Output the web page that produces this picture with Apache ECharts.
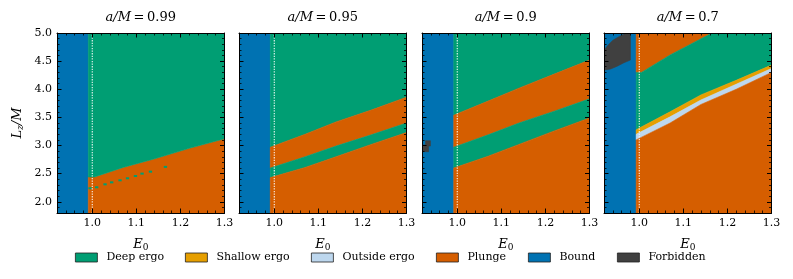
<!DOCTYPE html>
<html><head><meta charset="utf-8">
<script src="https://cdn.jsdelivr.net/npm/echarts@6/dist/echarts.min.js"></script>
<style>html,body{margin:0;padding:0;background:#fff}#c{width:793px;height:279px}</style>
</head><body><div id="c"></div><script>
// ---------- data ----------
const categories = ['Deep ergo', 'Shallow ergo', 'Outside ergo', 'Plunge', 'Bound', 'Forbidden'];
const spinValues = ['0.99', '0.95', '0.9', '0.7'];
const xMajorTicks = [1.0, 1.1, 1.2, 1.3];
const xMinorTicks = [0.92, 0.94, 0.96, 0.98, 1.02, 1.04, 1.06, 1.08, 1.12, 1.14, 1.16, 1.18, 1.22, 1.24, 1.26, 1.28];
const yMajorTicks = [2.0, 2.5, 3.0, 3.5, 4.0, 4.5, 5.0];
const yMinorTicks = [1.8, 1.9, 2.1, 2.2, 2.3, 2.4, 2.6, 2.7, 2.8, 2.9, 3.1, 3.2, 3.3, 3.4, 3.6, 3.7, 3.8, 3.9, 4.1, 4.2, 4.3, 4.4, 4.6, 4.7, 4.8, 4.9];
const horizonLine = [[1.0, 1.8], [1.0, 5.0]];
const boundEdgeE = [0.991, 0.991, 0.992, 0.993];

// panel a/M = 0.99
const p1Edge = [[0.991, 2.44], [1.005, 2.44], [1.07, 2.61], [1.14, 2.76], [1.22, 2.95], [1.30, 3.12]];
const p1Dots = [[0.995, 2.24], [1.010, 2.257], [1.029, 2.31], [1.044, 2.345], [1.063, 2.381], [1.080, 2.417], [1.098, 2.458], [1.113, 2.50], [1.132, 2.535], [1.166, 2.62]];
// panel a/M = 0.95
const p2Top = [[0.991, 2.97], [1.07, 3.20], [1.14, 3.42], [1.22, 3.63], [1.30, 3.86]];
const p2Mid = [[0.991, 2.60], [1.07, 2.80], [1.14, 2.99], [1.22, 3.19], [1.30, 3.40]];
const p2Low = [[0.991, 2.43], [1.07, 2.61], [1.14, 2.80], [1.22, 3.02], [1.30, 3.23]];
// panel a/M = 0.9
const p3Top = [[0.992, 3.54], [1.07, 3.79], [1.14, 4.02], [1.22, 4.27], [1.30, 4.52]];
const p3Mid = [[0.992, 2.97], [1.07, 3.19], [1.14, 3.40], [1.22, 3.61], [1.30, 3.83]];
const p3Low = [[0.992, 2.60], [1.07, 2.81], [1.14, 3.02], [1.22, 3.26], [1.30, 3.49]];
const p3Forbidden = [[0.92, 2.89], [0.92, 3.01], [0.928, 3.01], [0.928, 3.085], [0.939, 3.085], [0.939, 2.99], [0.935, 2.99], [0.935, 2.89]];
// panel a/M = 0.7
const p4Forbidden = [[0.92, 4.34], [0.92, 4.70], [0.93, 4.79], [0.94, 4.87], [0.955, 4.94], [0.97, 5.0], [0.98, 5.0], [0.98, 4.52], [0.965, 4.47], [0.95, 4.41], [0.935, 4.36]];
const p4GreenTop = [[0.993, 4.30], [1.005, 4.30], [1.07, 4.61], [1.165, 5.0]];
const p4GreenBottom = [[0.993, 3.28], [1.07, 3.60], [1.14, 3.90], [1.22, 4.16], [1.30, 4.43]];
const p4ShallowBottom = [[0.993, 3.20], [1.07, 3.51], [1.14, 3.81], [1.22, 4.09], [1.30, 4.37]];
const p4OutsideBottom = [[0.993, 3.10], [1.07, 3.40], [1.14, 3.73], [1.22, 4.00], [1.30, 4.30]];

// ---------- styles ----------
const E_MIN = 0.92, E_MAX = 1.3, L_MIN = 1.8, L_MAX = 5.0;
const catColor = {
  'Deep ergo': '#009E73', 'Shallow ergo': '#E69F00', 'Outside ergo': '#BDD7EE',
  'Plunge': '#D55E00', 'Bound': '#0072B2', 'Forbidden': '#404040'
};
const gridLefts = [57, 239, 422, 604];
const gridW = 167.5, gridTop = 33, gridH = 180;
const FONT = 'DejaVu Serif';
const CELL = [0.0075, 0.036];

// ---------- polygon helpers (combine boundary curves) ----------
const rev = a => a.slice().reverse();
const above = c => [...c, [c[c.length - 1][0], L_MAX], [c[0][0], L_MAX]];
const below = c => [[c[0][0], L_MIN], [c[c.length - 1][0], L_MIN], ...rev(c)];
const between = (lo, hi) => [...lo, ...rev(hi)];
const boundRect = e => [[E_MIN, L_MIN], [e, L_MIN], [e, L_MAX], [E_MIN, L_MAX]];

const panels = [
  [ ['Bound', boundRect(boundEdgeE[0])], ['Plunge', below(p1Edge)], ['Deep ergo', above(p1Edge)] ],
  [ ['Bound', boundRect(boundEdgeE[1])], ['Deep ergo', above(p2Top)], ['Plunge', between(p2Mid, p2Top)],
    ['Deep ergo', between(p2Low, p2Mid)], ['Plunge', below(p2Low)] ],
  [ ['Bound', boundRect(boundEdgeE[2])], ['Forbidden', p3Forbidden], ['Deep ergo', above(p3Top)],
    ['Plunge', between(p3Mid, p3Top)], ['Deep ergo', between(p3Low, p3Mid)], ['Plunge', below(p3Low)] ],
  [ ['Bound', boundRect(boundEdgeE[3])], ['Forbidden', p4Forbidden],
    ['Plunge', [...p4GreenTop, [p4GreenTop[0][0], L_MAX]]],
    ['Deep ergo', [...p4GreenBottom, [E_MAX, L_MAX], ...rev(p4GreenTop)]],
    ['Shallow ergo', between(p4ShallowBottom, p4GreenBottom)],
    ['Outside ergo', between(p4OutsideBottom, p4ShallowBottom)],
    ['Plunge', below(p4OutsideBottom)] ]
];

const tickLine = {color: '#000', width: 1};
const nameRich = {
  i: {fontFamily: FONT, fontStyle: 'italic', fontSize: 13, color: '#000', lineHeight: 16, verticalAlign: 'middle'},
  s: {fontFamily: FONT, fontSize: 9, color: '#000', lineHeight: 16, verticalAlign: 'middle', padding: [6, 0, 0, 0]},
  si: {fontFamily: FONT, fontStyle: 'italic', fontSize: 9, color: '#000', lineHeight: 16, verticalAlign: 'middle', padding: [6, 0, 0, 0]}
};
function xAxes(g) {
  const base = {gridIndex: g, type: 'value', min: E_MIN, max: E_MAX, z: 10, splitLine: {show: false},
    axisLine: {show: false, onZero: false}, axisLabel: {show: false}, axisTick: {show: false}};
  const major = {show: true, inside: true, length: 4.5, customValues: xMajorTicks, lineStyle: tickLine};
  const minor = {show: true, inside: true, length: 2.5, customValues: xMinorTicks, lineStyle: {color: '#000', width: 0.8}};
  return [
    Object.assign({}, base, {position: 'bottom',
      axisLine: {show: true, onZero: false, lineStyle: tickLine}, axisTick: major,
      axisLabel: {show: true, customValues: xMajorTicks, formatter: v => v.toFixed(1), color: '#000', fontFamily: FONT, fontSize: 11, margin: 5},
      name: '{i|E}{s|0}', nameLocation: 'middle', nameGap: 24, nameTextStyle: {rich: nameRich}}),
    Object.assign({}, base, {position: 'bottom', axisTick: minor}),
    Object.assign({}, base, {position: 'top', axisLine: {show: true, onZero: false, lineStyle: tickLine}, axisTick: major}),
    Object.assign({}, base, {position: 'top', axisTick: minor})
  ];
}
function yAxes(g) {
  const base = {gridIndex: g, type: 'value', min: L_MIN, max: L_MAX, z: 10, splitLine: {show: false},
    axisLine: {show: false, onZero: false}, axisLabel: {show: false}, axisTick: {show: false}};
  const major = {show: true, inside: true, length: 4.5, customValues: yMajorTicks, lineStyle: tickLine};
  const minor = {show: true, inside: true, length: 2.5, customValues: yMinorTicks, lineStyle: {color: '#000', width: 0.8}};
  const main = Object.assign({}, base, {position: 'left',
    axisLine: {show: true, onZero: false, lineStyle: tickLine}, axisTick: major});
  if (g === 0) {
    Object.assign(main, {
      axisLabel: {show: true, customValues: yMajorTicks, formatter: v => v.toFixed(1), color: '#000', fontFamily: FONT, fontSize: 11, margin: 5},
      name: '{i|L}{si|z}{i|/M}', nameLocation: 'middle', nameGap: 31, nameRotate: 90,
      nameTextStyle: {rich: nameRich}
    });
  }
  return [
    main,
    Object.assign({}, base, {position: 'left', axisTick: minor}),
    Object.assign({}, base, {position: 'right', axisLine: {show: true, onZero: false, lineStyle: tickLine}, axisTick: major}),
    Object.assign({}, base, {position: 'right', axisTick: minor})
  ];
}

const grids = [], xAxis = [], yAxis = [], series = [], graphic = [];
panels.forEach((regions, g) => {
  grids.push({left: gridLefts[g], top: gridTop, width: gridW, height: gridH, containLabel: false});
  xAxis.push(...xAxes(g));
  yAxis.push(...yAxes(g));
  regions.forEach(([cat, poly]) => {
    const color = catColor[cat];
    series.push({
      type: 'custom', name: cat, xAxisIndex: 4 * g, yAxisIndex: 4 * g, clip: true, silent: true,
      itemStyle: {color: color},
      data: [poly[0]],
      renderItem: (params, api) => ({
        type: 'polygon',
        shape: {points: poly.map(p => api.coord(p))},
        style: {fill: color, stroke: color, lineWidth: 0.6}
      })
    });
  });
  if (g === 0) {
    series.push({
      type: 'custom', name: 'Deep ergo', xAxisIndex: 0, yAxisIndex: 0, clip: true, silent: true,
      itemStyle: {color: catColor['Deep ergo']},
      data: p1Dots,
      renderItem: (params, api) => {
        const c = api.coord([api.value(0), api.value(1)]);
        const s = api.size(CELL);
        return {type: 'rect', shape: {x: c[0] - s[0] / 2, y: c[1] - s[1] / 2, width: s[0], height: s[1]},
          style: {fill: catColor['Deep ergo']}};
      }
    });
  }
  series.push({
    type: 'line', xAxisIndex: 4 * g, yAxisIndex: 4 * g, data: horizonLine, symbol: 'none', silent: true, z: 5,
    lineStyle: {color: 'rgba(255,255,255,0.95)', width: 1.1, type: [1.3, 1.3]}
  });
  graphic.push({
    type: 'text', x: gridLefts[g] + gridW / 2, y: 18,
    style: {
      text: '{i|a/M}{n|\u2009=\u20090' + spinValues[g].slice(1) + '}',
      align: 'center', verticalAlign: 'middle',
      rich: {
        i: {fontFamily: FONT, fontStyle: 'italic', fontSize: 13, fill: '#000'},
        n: {fontFamily: FONT, fontSize: 13, fill: '#000'}
      }
    }
  });
});

const legendLefts = [75, 185, 311, 436, 528, 617];
const legend = categories.map((cat, i) => ({
  data: [cat], left: legendLefts[i], top: 252, itemWidth: 22, itemHeight: 9, itemGap: 6, padding: 0,
  selectedMode: false, icon: 'rect',
  itemStyle: {borderColor: '#222', borderWidth: 0.8},
  textStyle: {fontFamily: FONT, fontSize: 11, color: '#000', padding: [0, 0, 0, 4]}
}));

const chart = echarts.init(document.getElementById('c'), null, {renderer: 'canvas', width: 793, height: 279});
chart.setOption({
  animation: false, backgroundColor: '#fff',
  grid: grids, xAxis: xAxis, yAxis: yAxis, series: series, legend: legend, graphic: graphic
});
</script></body></html>
